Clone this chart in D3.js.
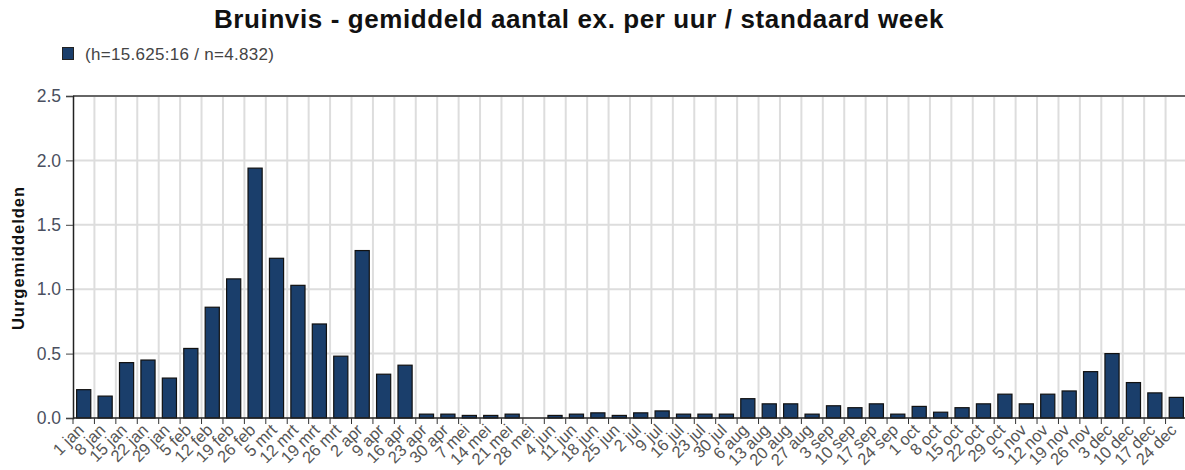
<!DOCTYPE html>
<html>
<head>
<meta charset="utf-8">
<script src="https://cdn.jsdelivr.net/npm/d3@7"></script>
<style>
  body { margin: 0; background: #fff; }
  svg { font-family: "Liberation Sans", Arial, sans-serif; }
</style>
</head>
<body>
<svg id="svg" width="1185" height="470"></svg>
<script>
var weeks = ["1 jan", "8 jan", "15 jan", "22 jan", "29 jan", "5 feb", "12 feb", "19 feb", "26 feb",
  "5 mrt", "12 mrt", "19 mrt", "26 mrt", "2 apr", "9 apr", "16 apr", "23 apr", "30 apr",
  "7 mei", "14 mei", "21 mei", "28 mei", "4 jun", "11 jun", "18 jun", "25 jun",
  "2 jul", "9 jul", "16 jul", "23 jul", "30 jul", "6 aug", "13 aug", "20 aug", "27 aug",
  "3 sep", "10 sep", "17 sep", "24 sep", "1 oct", "8 oct", "15 oct", "22 oct", "29 oct",
  "5 nov", "12 nov", "19 nov", "26 nov", "3 dec", "10 dec", "17 dec", "24 dec"];

var values = [0.22, 0.17, 0.43, 0.45, 0.31, 0.54, 0.86, 1.08, 1.94,
  1.24, 1.03, 0.73, 0.48, 1.30, 0.34, 0.41, 0.03, 0.03,
  0.02, 0.02, 0.03, 0.0, 0.02, 0.03, 0.04, 0.02,
  0.04, 0.055, 0.03, 0.03, 0.03, 0.15, 0.11, 0.11, 0.03,
  0.095, 0.08, 0.11, 0.03, 0.09, 0.045, 0.08, 0.11, 0.185,
  0.11, 0.185, 0.21, 0.36, 0.50, 0.275, 0.195, 0.16];

var yTicks = [0, 0.5, 1.0, 1.5, 2.0, 2.5];

var titleText = "Bruinvis - gemiddeld aantal ex. per uur / standaard week";
var legendText = "(h=15.625:16 / n=4.832)";
var yTitle = "Uurgemiddelden";

var svg = d3.select("#svg");

var plot = { left: 73, right: 1187, top: 96, bottom: 418 };
var barColor = "#1a3e6b";

var xScale = d3.scaleBand()
  .domain(weeks)
  .range([plot.left, plot.right])
  .paddingInner(0.34)
  .paddingOuter(0.17);

var step = xScale.step();

var yScale = d3.scaleLinear()
  .domain([0, 2.5])
  .range([plot.bottom, plot.top]);

// title
svg.append("text")
  .attr("x", 579)
  .attr("y", 28)
  .attr("text-anchor", "middle")
  .attr("font-size", 26)
  .attr("font-weight", "bold")
  .attr("letter-spacing", 0.6)
  .attr("fill", "#111")
  .text(titleText);

// legend
svg.append("rect")
  .attr("x", 62.5).attr("y", 47.5)
  .attr("width", 11).attr("height", 12)
  .attr("fill", barColor)
  .attr("stroke", "#222");
svg.append("text")
  .attr("x", 85).attr("y", 60)
  .attr("font-size", 17)
  .attr("letter-spacing", 0.3)
  .attr("fill", "#444")
  .text(legendText);

// vertical grid lines at band boundaries
var bounds = d3.range(weeks.length + 1).map(function (i) { return plot.left + i * step; });
svg.append("g")
  .selectAll("line")
  .data(bounds.slice(1))
  .enter()
  .append("line")
  .attr("x1", function (d) { return d; })
  .attr("x2", function (d) { return d; })
  .attr("y1", plot.top)
  .attr("y2", plot.bottom)
  .attr("stroke", "#ddd")
  .attr("stroke-width", 2);

// horizontal grid lines
svg.append("g")
  .selectAll("line")
  .data(yTicks.slice(1, -1))
  .enter()
  .append("line")
  .attr("x1", plot.left)
  .attr("x2", plot.right)
  .attr("y1", function (d) { return yScale(d); })
  .attr("y2", function (d) { return yScale(d); })
  .attr("stroke", "#ddd")
  .attr("stroke-width", 2);

// top border
svg.append("line")
  .attr("x1", plot.left).attr("x2", plot.right)
  .attr("y1", plot.top).attr("y2", plot.top)
  .attr("stroke", "#666").attr("stroke-width", 2);

// bars
svg.append("g")
  .selectAll("rect")
  .data(values)
  .enter()
  .append("rect")
  .attr("x", function (d, i) { return xScale(weeks[i]); })
  .attr("y", function (d) { return yScale(d); })
  .attr("width", xScale.bandwidth())
  .attr("height", function (d) { return plot.bottom - yScale(d); })
  .attr("fill", barColor)
  .attr("stroke", "#111")
  .attr("stroke-width", function (d) { return d > 0 ? 1.2 : 0; });

// y axis
var yAxis = svg.append("g")
  .attr("transform", "translate(" + plot.left + ",0)")
  .call(d3.axisLeft(yScale).tickValues(yTicks).tickFormat(d3.format(".1f")).tickSize(7).tickPadding(5));
yAxis.select(".domain").attr("stroke", "#222").attr("stroke-width", 1.5);
yAxis.selectAll(".tick line").attr("stroke", "#444");
yAxis.selectAll(".tick text")
  .attr("font-size", 17.5)
  .attr("fill", "#4a4f60")
  .attr("font-family", "Liberation Sans, Arial, sans-serif");

// x axis line and tick marks at band boundaries
svg.append("line")
  .attr("x1", plot.left).attr("x2", plot.right)
  .attr("y1", plot.bottom).attr("y2", plot.bottom)
  .attr("stroke", "#222").attr("stroke-width", 1.5);
svg.append("g")
  .selectAll("line")
  .data(bounds)
  .enter()
  .append("line")
  .attr("x1", function (d) { return d; })
  .attr("x2", function (d) { return d; })
  .attr("y1", plot.bottom)
  .attr("y2", plot.bottom + 6)
  .attr("stroke", "#333");

// x labels
svg.append("g")
  .selectAll("text")
  .data(weeks)
  .enter()
  .append("text")
  .attr("transform", function (d) {
    return "translate(" + (xScale(d) - xScale.step() * xScale.paddingOuter() + 8) + "," + (plot.bottom + 9) + ") rotate(-45)";
  })
  .attr("text-anchor", "end")
  .attr("dy", "0.35em")
  .attr("font-size", 16.5)
  .attr("fill", "#555")
  .text(function (d) { return d; });

// y title
svg.append("text")
  .attr("transform", "translate(24,258) rotate(-90)")
  .attr("text-anchor", "middle")
  .attr("font-size", 16.5)
  .attr("font-weight", "bold")
  .attr("letter-spacing", 1)
  .attr("fill", "#111")
  .text(yTitle);
</script>
</body>
</html>
